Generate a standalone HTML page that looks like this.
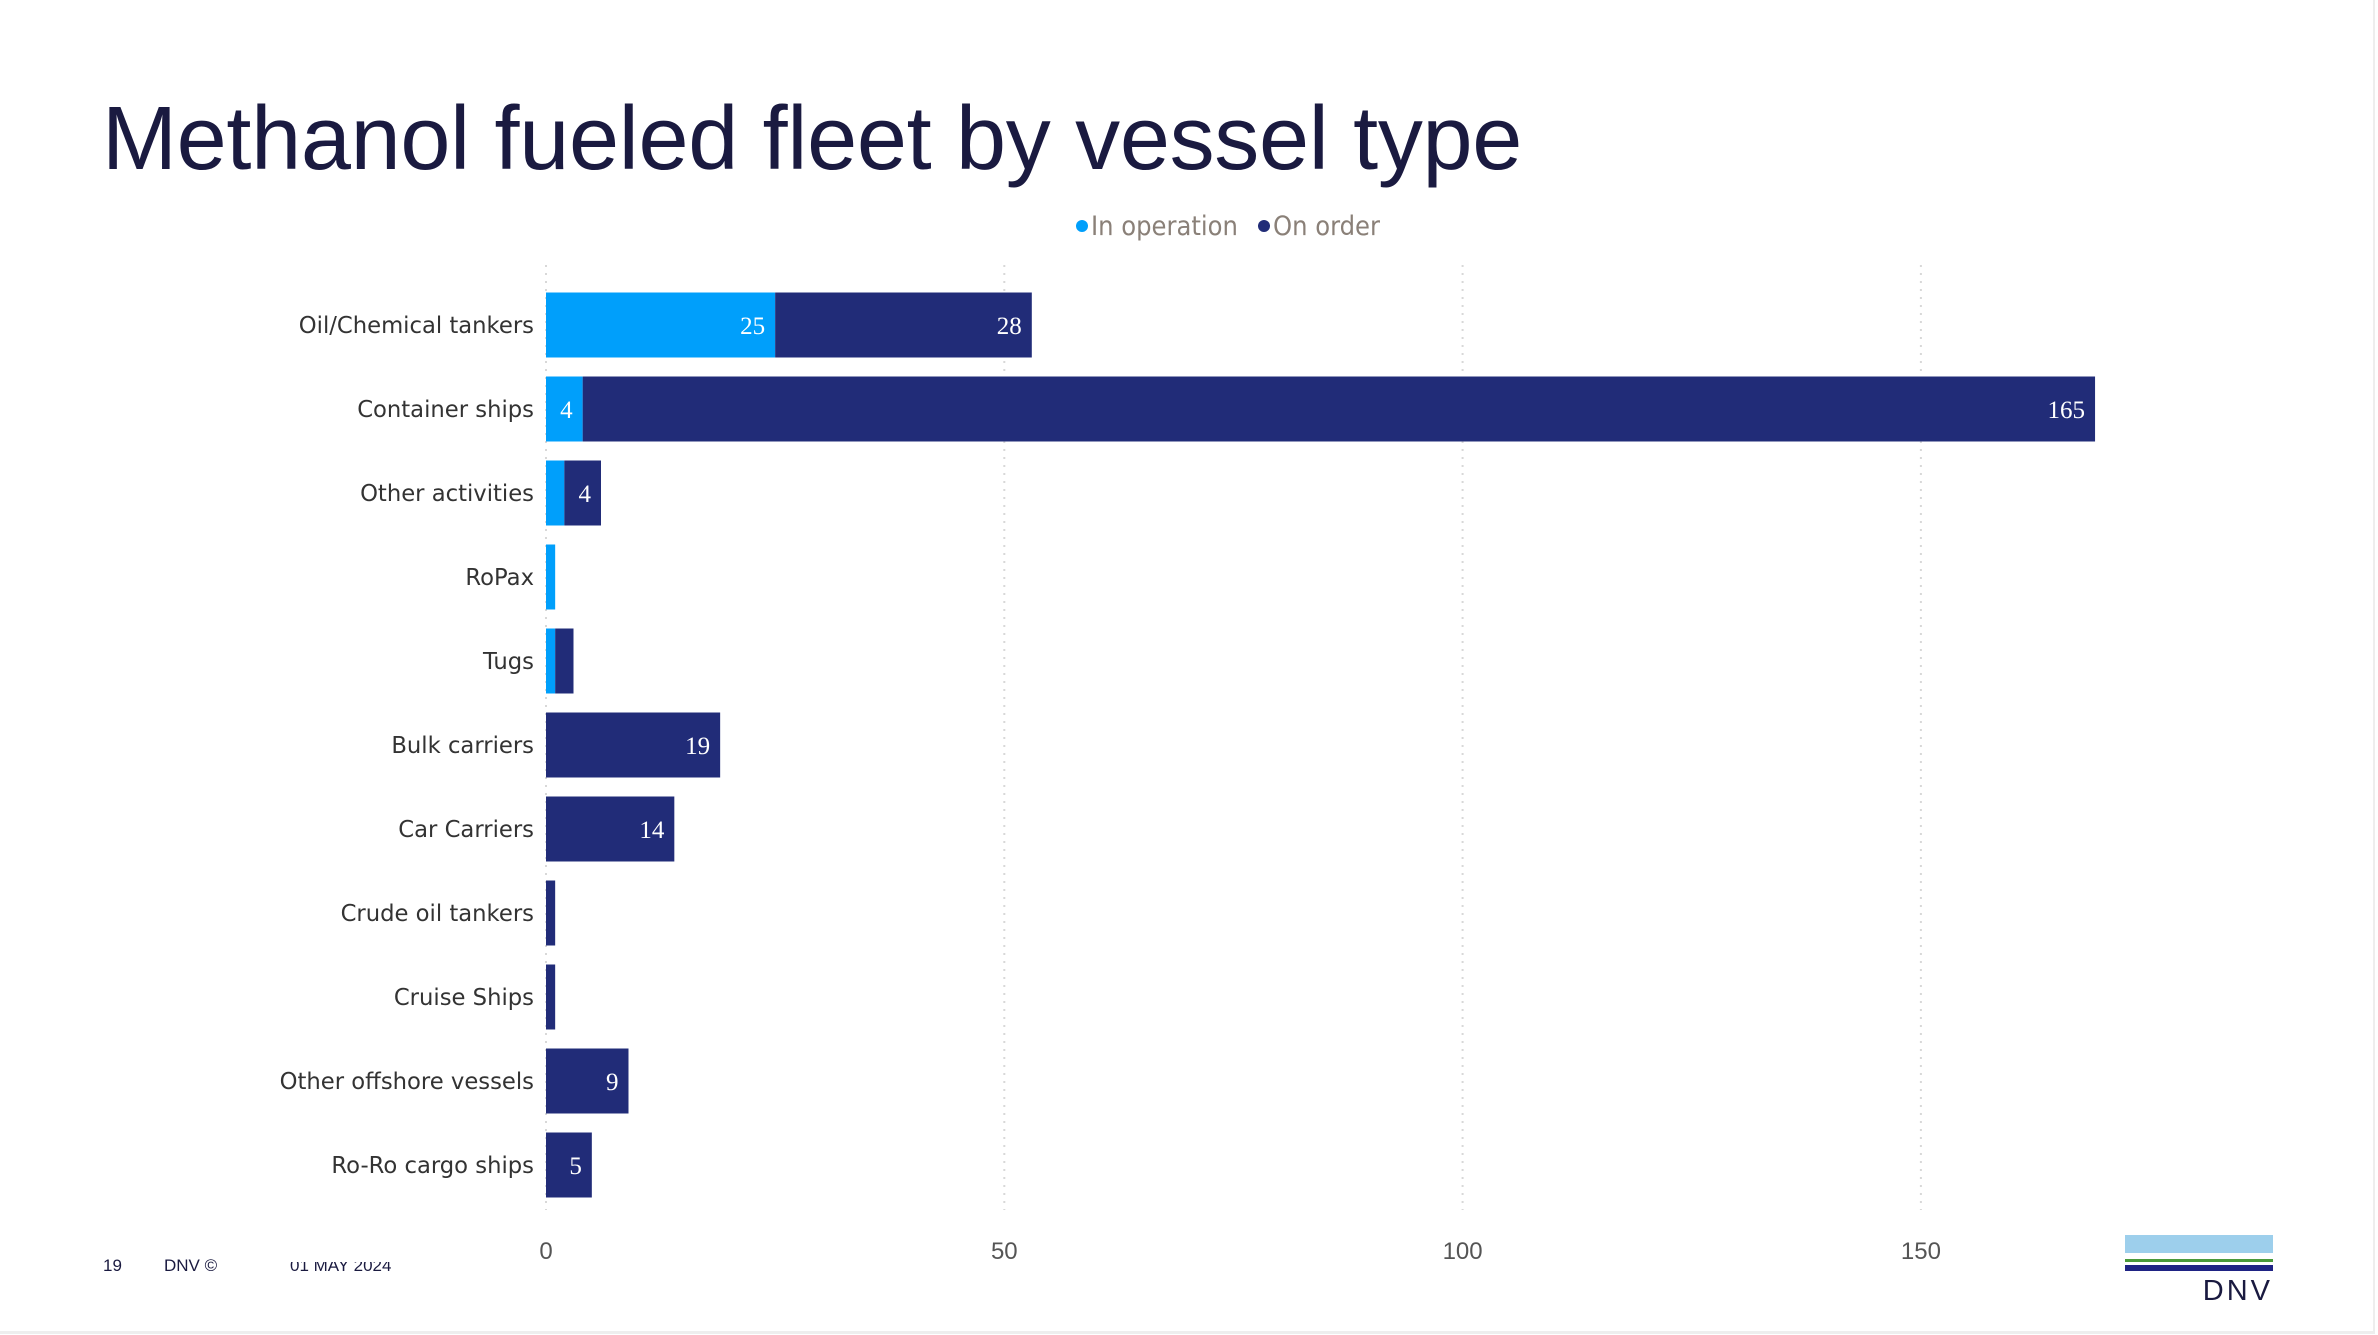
<!DOCTYPE html>
<html><head><meta charset="utf-8"><style>
html,body{margin:0;padding:0;background:#fff;}
body{width:2378px;height:1335px;position:relative;overflow:hidden;font-family:"Liberation Sans",sans-serif;}
#frame{position:absolute;left:0;top:0;width:2373px;height:1331px;border-right:2px solid #eee;border-bottom:3px solid #eee;}
#title{position:absolute;left:102px;top:88px;font-size:90px;color:#1a1a40;white-space:nowrap;letter-spacing:-0.3px;}
svg{position:absolute;left:0;top:0;}
</style></head><body>
<div id="frame"></div>
<div id="title">Methanol fueled fleet by vessel type</div>
<svg id="chart" width="2378" height="1335"></svg>
<script>
const categories=["Oil/Chemical tankers","Container ships","Other activities","RoPax","Tugs","Bulk carriers","Car Carriers","Crude oil tankers","Cruise Ships","Other offshore vessels","Ro-Ro cargo ships"];
const inOperation=[25,4,2,1,1,0,0,0,0,0,0];
const onOrder=[28,165,4,0,2,19,14,1,1,9,5];
const ticks=[0,50,100,150];
const seriesNames=["In operation","On order"];
const NS="http://www.w3.org/2000/svg";
const svg=document.getElementById('chart');
const x0=546, ppu=9.166, y0=325, pitch=84, bh=65;
const xs=v=>x0+v*ppu;
const yc=i=>y0+i*pitch;
function mk(t,a,p){const e=document.createElementNS(NS,t);for(const k in a)e.setAttribute(k,a[k]);(p||svg).appendChild(e);return e;}
ticks.forEach(t=>{
  const g=mk('line',{x1:xs(t),x2:xs(t),y1:265,y2:1210,stroke:'#d8d8d8','stroke-width':2,'stroke-dasharray':'2,6'});
  
  
  const tl=mk('text',{x:xs(t),y:1259,'text-anchor':'middle','font-size':24,fill:'#555','font-family':'Liberation Sans, sans-serif'});
  tl.textContent=t;
  
  
});
categories.forEach((c,i)=>{
  const cy=yc(i);
  const lab=mk('text',{x:534,y:cy+8,'text-anchor':'end','font-size':22.7,fill:'#333','font-family':'DejaVu Sans, sans-serif'});
  lab.textContent=c;
  
  
  const a=inOperation[i], b=onOrder[i];
  if(a>0){
    const r=mk('rect',{x:xs(0),y:cy-bh/2,width:xs(a)-xs(0),height:bh,fill:'#009ffb'});
    
    
    if(a>=3){const t=mk('text',{x:xs(a)-10,y:cy+9,'text-anchor':'end','font-size':25,fill:'#fff','font-family':'Liberation Serif, serif'});t.textContent=a;
      
      }
  }
  if(b>0){
    const r=mk('rect',{x:xs(a),y:cy-bh/2,width:xs(a+b)-xs(a),height:bh,fill:'#212c78'});
    
    
    if(b>=3){const t=mk('text',{x:xs(a+b)-10,y:cy+9,'text-anchor':'end','font-size':25,fill:'#fff','font-family':'Liberation Serif, serif'});t.textContent=b;
      
      }
  }
});
const lg=mk('g',{});


const lcols=['#009ffb','#212c78'];const lx=[1082,1264];
seriesNames.forEach((s,i)=>{
  const d=mk('circle',{cx:lx[i],cy:226,r:6,fill:lcols[i]},lg);
  
  
  const t=mk('text',{x:lx[i]+9,y:235,'font-size':27,fill:'#8a8078','font-family':'DejaVu Sans Condensed, DejaVu Sans, sans-serif'},lg);
  t.textContent=s;
  
  
});
const f1=mk('text',{x:103,y:1271,'font-size':17,fill:'#1a1a40'});f1.textContent='19';

const f2=mk('text',{x:164,y:1271,'font-size':17,fill:'#1a1a40'});f2.textContent='DNV ©';

const cpth=mk('clipPath',{id:'dc'});
mk('rect',{x:280,y:1262,width:150,height:10},cpth);
const f3=mk('text',{x:290,y:1271,'font-size':17,fill:'#1a1a40','clip-path':'url(#dc)'});f3.textContent='01 MAY 2024';

const lo=mk('g',{});
mk('rect',{x:2125,y:1235,width:148,height:18,fill:'#9dcfec'},lo);
mk('rect',{x:2125,y:1259,width:148,height:3,fill:'#4a9a3a'},lo);
mk('rect',{x:2125,y:1265,width:148,height:6,fill:'#1f2384'},lo);
const dt=mk('text',{x:2273,y:1300,'text-anchor':'end','font-size':29,fill:'#1a1a40','letter-spacing':3},lo);dt.textContent='DNV';
</script>
</body></html>
